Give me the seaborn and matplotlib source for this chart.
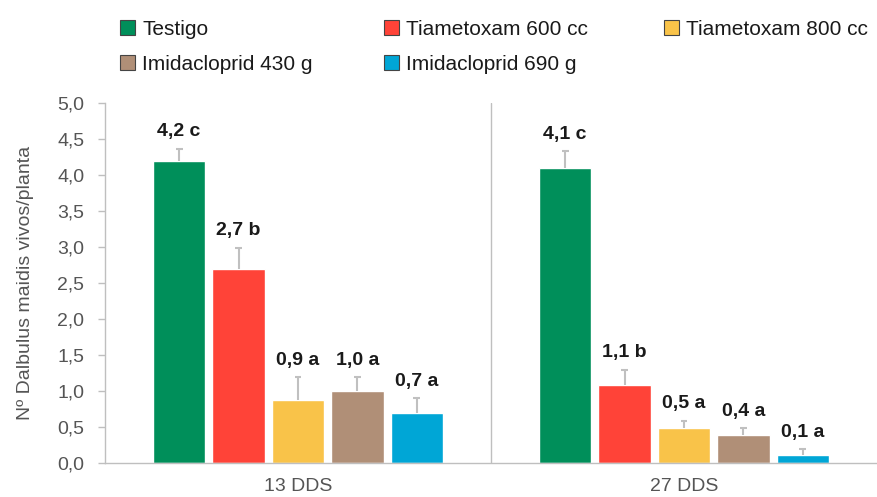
import matplotlib
matplotlib.use("Agg")
import matplotlib.pyplot as plt
import pandas as pd
import seaborn as sns

# data
dias = ["13 DDS", "27 DDS"]
tratamientos = ["Testigo", "Tiametoxam 600 cc", "Tiametoxam 800 cc",
                "Imidacloprid 430 g", "Imidacloprid 690 g"]
media_13 = [4.2, 2.7, 0.88, 1.0, 0.7]
media_27 = [4.1, 1.08, 0.49, 0.39, 0.11]
error_13 = [0.16, 0.29, 0.31, 0.19, 0.20]
error_27 = [0.23, 0.21, 0.10, 0.09, 0.08]
letras_13 = ["4,2 c", "2,7 b", "0,9 a", "1,0 a", "0,7 a"]
letras_27 = ["4,1 c", "1,1 b", "0,5 a", "0,4 a", "0,1 a"]
colores = ["#008f5a", "#ff4338", "#f9c349", "#b08f77", "#00a6d6"]
y_ticks = [0.0, 0.5, 1.0, 1.5, 2.0, 2.5, 3.0, 3.5, 4.0, 4.5, 5.0]

df = pd.DataFrame({
    "dia": [dias[0]] * 5 + [dias[1]] * 5,
    "trat": tratamientos * 2,
    "media": media_13 + media_27,
    "error": error_13 + error_27,
    "letra": letras_13 + letras_27,
})

sns.set_style("white")
plt.rcParams["font.family"] = ["Liberation Sans", "DejaVu Sans"]

fig = plt.figure(figsize=(8.77, 4.97), dpi=100)
ax = fig.add_axes([105 / 877, 34 / 497, 772 / 877, 360 / 497])

sns.barplot(data=df, x="dia", y="media", hue="trat", order=dias,
            hue_order=tratamientos, palette=colores, width=0.77, gap=0.12,
            errorbar=None, saturation=1, ax=ax, legend=True)

# error bars (upper side only) + labels on each bar
gris = "#c0c0c0"
barras = list(ax.containers)
for i, cont in enumerate(barras):
    for bar in cont:
        cx = bar.get_x() + bar.get_width() / 2
        k = int(round(cx))
        fila = df[(df.dia == dias[k]) & (df.trat == tratamientos[i])].iloc[0]
        tope = fila.media + fila.error
        ax.vlines(cx, fila.media, tope, color=gris, lw=1.5, zorder=3)
        ax.hlines(tope, cx - 0.009, cx + 0.009, color=gris, lw=1.5, zorder=3)
        ax.text(cx, tope + 0.12, fila.letra, ha="center",
                va="bottom", fontsize=14, fontweight="bold", color="#1a1a1a")

ax.set_ylim(0, 5)
ax.set_xlim(-0.5, 1.479)
ax.set_yticks(y_ticks)
ax.set_yticklabels([f"{v:.1f}".replace(".", ",") for v in y_ticks])
ax.set_xticks([0, 1])
ax.set_xticklabels(dias)
ax.set_xticks([-0.5, 0.5, 1.5], minor=True)
ax.tick_params(axis="x", which="major", length=0, labelsize=14,
               labelcolor="#555555", pad=11)
ax.tick_params(axis="x", which="minor", length=7, width=1, color="#bfbfbf",
               direction="out")
ax.tick_params(axis="y", length=5, width=1, color="#bfbfbf", labelsize=14,
               labelcolor="#555555", direction="out", left=True, pad=10)
ax.axvline(0.5, color="#bfbfbf", lw=1, zorder=0)

for s in ["top", "right"]:
    ax.spines[s].set_visible(False)
for s in ["left", "bottom"]:
    ax.spines[s].set_color("#bfbfbf")
    ax.spines[s].set_linewidth(1)

ax.set_xlabel("")
ax.set_ylabel("Nº Dalbulus maidis vivos/planta", fontsize=14, color="#555555")
ax.yaxis.set_label_coords(-0.092, 0.5)

# legend: three columns placed like the original
handles, labels = ax.get_legend_handles_labels()
ax.get_legend().remove()
for h in handles:
    h.set_edgecolor("#444444")
    h.set_linewidth(0.8)
columnas = [([0, 3], 120), ([1, 4], 384), ([2], 664)]
for idx, xpx in columnas:
    ycen = 497 - 29.2 if len(idx) == 1 else 497 - 46.8
    leg = fig.legend([handles[j] for j in idx], [labels[j] for j in idx],
                     loc="center left", bbox_to_anchor=(xpx / 877, ycen / 497),
                     frameon=False, fontsize=15, handlelength=0.72,
                     handleheight=0.72, handletextpad=0.34, labelspacing=0.75,
                     borderpad=0, borderaxespad=0)
    for t in leg.get_texts():
        t.set_color("#1a1a1a")

fig.savefig("out.png", dpi=100)
